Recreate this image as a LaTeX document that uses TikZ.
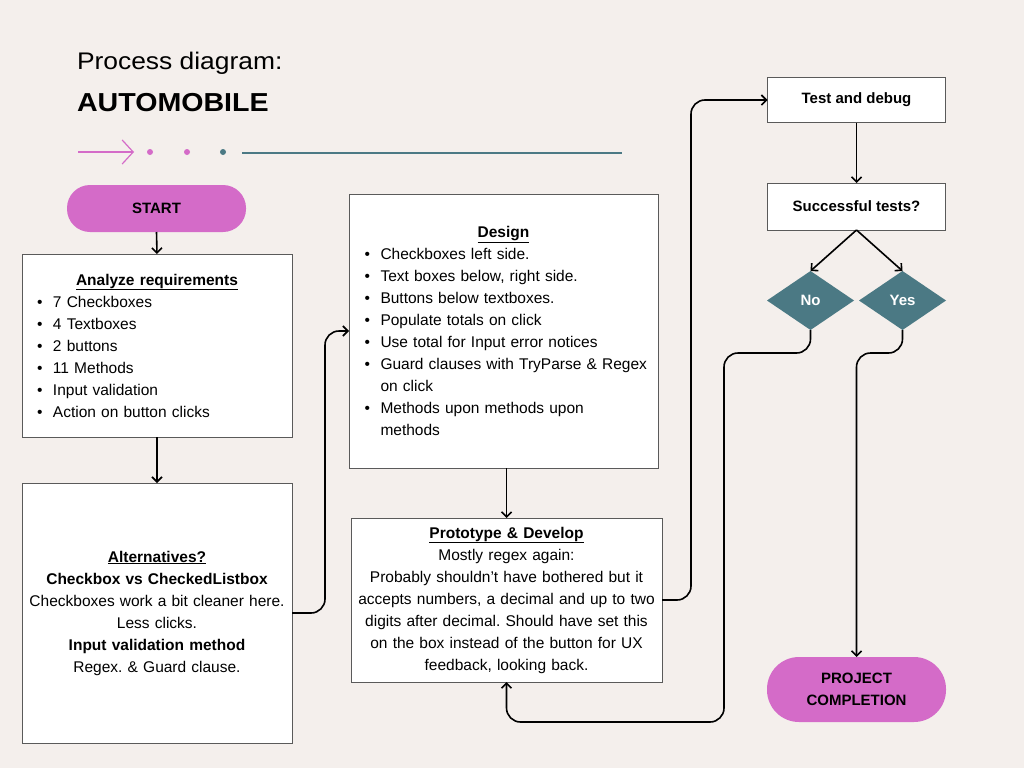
\documentclass[tikz,border=0pt]{standalone}
\usepackage{fontspec}
\setmainfont{Liberation Sans}
\newfontfamily\titlefont[FakeStretch=1.1]{Liberation Sans}
\usetikzlibrary{arrows.meta}
\usetikzlibrary{shapes.geometric}
\usepackage{xcolor}
\definecolor{paper}{HTML}{F4EFEC}
\definecolor{orchid}{HTML}{D46BC8}
\definecolor{slate}{HTML}{4B7984}
\definecolor{edge}{HTML}{5A5A5A}
\frenchspacing
\newcommand{\bul}{\makebox[16pt][l]{\textbullet}}
\newcommand{\ctr}[2]{\makebox[#1][c]{#2}}

\begin{document}
\begin{tikzpicture}[x=1pt, y=-1pt,
  every node/.style={font=\fontsize{15.5}{22}\selectfont, inner sep=0pt, outer sep=0pt},
  card/.style={draw=edge, fill=white, line width=1pt},
  pill/.style={fill=orchid, rounded corners=#1, align=center, font=\fontsize{15}{22}\selectfont\bfseries},
  gem/.style={diamond, fill=slate, text=white, minimum width=87pt, minimum height=59pt, font=\fontsize{15}{22}\selectfont\bfseries},
  link/.style={black, line width=1.6pt, rounded corners=14pt, -{Straight Barb[length=5pt,width=10pt]}}
]
\fill[paper] (0,0) rectangle (1024,768);
\node[anchor=base west, font=\titlefont\fontsize{24}{28}\selectfont] (head) at (77,70) {Process diagram:};
\node[anchor=base west, font=\titlefont\bfseries\fontsize{26}{30}\selectfont] (car) at (77,111) {AUTOMOBILE};
\coordinate (tail) at (78,152);
\coordinate (tip) at (134,152);
\draw[orchid, line width=1.2pt, -{Straight Barb[length=11pt,width=24pt]}] (tail) -- (tip);
\foreach \x/\c in {150/orchid,187/orchid,223/slate}
  \fill[\c] (\x,152) circle (3pt);
\draw[slate, line width=2pt] (242,152.5) -- (622,152.5);

\node[pill=23pt, minimum width=179pt, minimum height=47pt] (start) at (156.5,208.5) {START};
\node[card, minimum width=270pt, minimum height=183pt, text width=240pt, align=left] (req) at (157,345.5) {%
\ctr{240pt}{\underline{\textbf{Analyze requirements}}}\\
\bul 7 Checkboxes\\
\bul 4 Textboxes\\
\bul 2 buttons\\
\bul 11 Methods\\
\bul Input validation\\
\bul Action on button clicks};
\node[card, minimum width=270pt, minimum height=260pt, text width=262pt, align=center] (alt) at (157,613) {%
\underline{\textbf{Alternatives?}}\\
\textbf{Checkbox vs CheckedListbox}\\
Checkboxes work a bit cleaner here.\\
Less clicks.\\
\textbf{Input validation method}\\
Regex. \& Guard clause.};
\node[card, minimum width=309pt, minimum height=274pt, text width=278pt, align=left] (design) at (503.5,331) {%
\ctr{278pt}{\underline{\textbf{Design}}}\\
\bul Checkboxes left side.\\
\bul Text boxes below, right side.\\
\bul Buttons below textboxes.\\
\bul Populate totals on click\\
\bul Use total for Input error notices\\
\mbox{\bul Guard clauses with TryParse \& Regex}\\
\hspace*{16pt}on click\\
\bul Methods upon methods upon\\
\hspace*{16pt}methods};
\node[card, minimum width=311pt, minimum height=164pt, text width=305pt, align=center] (proto) at (506.5,600) {%
\underline{\textbf{Prototype \& Develop}}\\
Mostly regex again:\\
Probably shouldn’t have bothered but it\\
accepts numbers, a decimal and up to two\\
digits after decimal. Should have set this\\
on the box instead of the button for UX\\
feedback, looking back.};
\node[card, minimum width=178pt, minimum height=45pt, font=\fontsize{15}{22}\selectfont\bfseries] (test) at (856.5,100) {Test and debug};
\node[card, minimum width=178pt, minimum height=47pt, font=\fontsize{15}{22}\selectfont\bfseries] (succ) at (856.5,206.5) {Successful tests?};
\node[gem] (no) at (810.5,300.5) {No};
\node[gem] (yes) at (902.5,300.5) {Yes};
\node[pill=32pt, minimum width=179pt, minimum height=65pt] (proj) at (856.5,689.5) {PROJECT\\COMPLETION};

\draw[link] (start.south) -- (req.north);
\draw[link] (req.south) -- (alt.north);
\draw[link] (alt.east) -- ++(33,0) |- (design.west);
\draw[link] (design.south -| proto.north) -- (proto.north);
\draw[link] (proto.east) -- ++(29,0) |- (test.west);
\draw[link] (test.south) -- (succ.north);
\draw[link] (succ.south) -- (no.north);
\draw[link] (succ.south) -- (yes.north);
\coordinate (back) at (724,722);
\draw[link] (no.south) -- ++(0,23) -| (back) -| (proto.south);
\draw[link] (yes.south) -- ++(0,23) -| (proj.north);
\end{tikzpicture}
\end{document}
